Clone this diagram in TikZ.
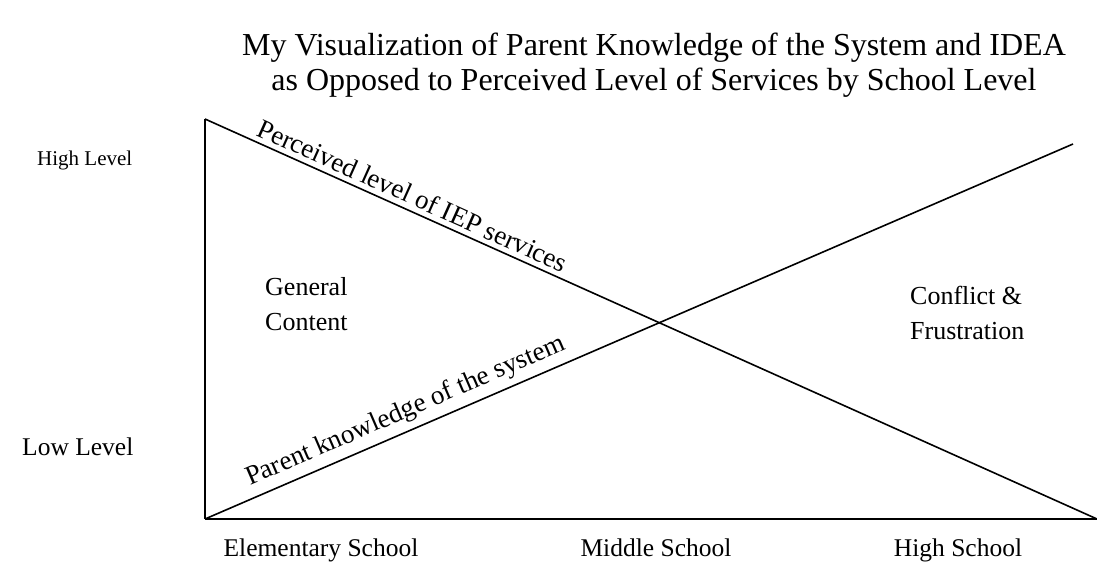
\documentclass[tikz,border=0pt]{standalone}
\usepackage{fontspec}
\setmainfont{Liberation Serif}
\begin{document}
\begin{tikzpicture}[x=1pt,y=-1pt,
  ln/.style={line width=1.6pt, black},
  base/.style={line width=2.2pt, black},
  lbl/.style={inner sep=0pt, anchor=base, font=\fontsize{25.5}{30}\selectfont},
  side/.style={inner sep=0pt, anchor=west, font=\fontsize{21}{25}\selectfont},
  area/.style={inner sep=0pt, anchor=north west, align=left, font=\fontsize{26}{35}\selectfont},
  slab/.style={inner sep=5pt, font=\fontsize{27}{30}\selectfont}]
\useasboundingbox (0,0) rectangle (1097,564);
\node[inner sep=0pt, align=center, font=\fontsize{32}{35}\selectfont] (title) at (654,65)
  {My Visualization of Parent Knowledge of the System and IDEA\\as Opposed to Perceived Level of Services by School Level};
\coordinate (tl) at (205,119);
\coordinate (bl) at (205,519);
\coordinate (br) at (1097,519);
\coordinate (tr) at (1073,144);
\draw[ln] (tl) -- (bl);
\draw[base] (bl) -- (br);
\draw[ln] (tl) -- (br) node[slab, pos=0.226, sloped, above] (perc) {Perceived level of IEP services};
\draw[ln] (bl) -- (tr) node[slab, pos=0.24, sloped, above, inner sep=6pt] (parent) {Parent knowledge of the system};
\node[side] (high) at (37,160) {High Level};
\node[side, font=\fontsize{25.5}{30}\selectfont] (low) at (22,447) {Low Level};
\node[area] (gen) at (265,277) {General\\Content};
\node[area] (conf) at (910,286) {Conflict \&\\Frustration};
\node[lbl] (elem) at (321,556) {Elementary School};
\node[lbl] (mid) at (656,556) {Middle School};
\node[lbl] (hs) at (958,556) {High School};
\end{tikzpicture}
\end{document}
